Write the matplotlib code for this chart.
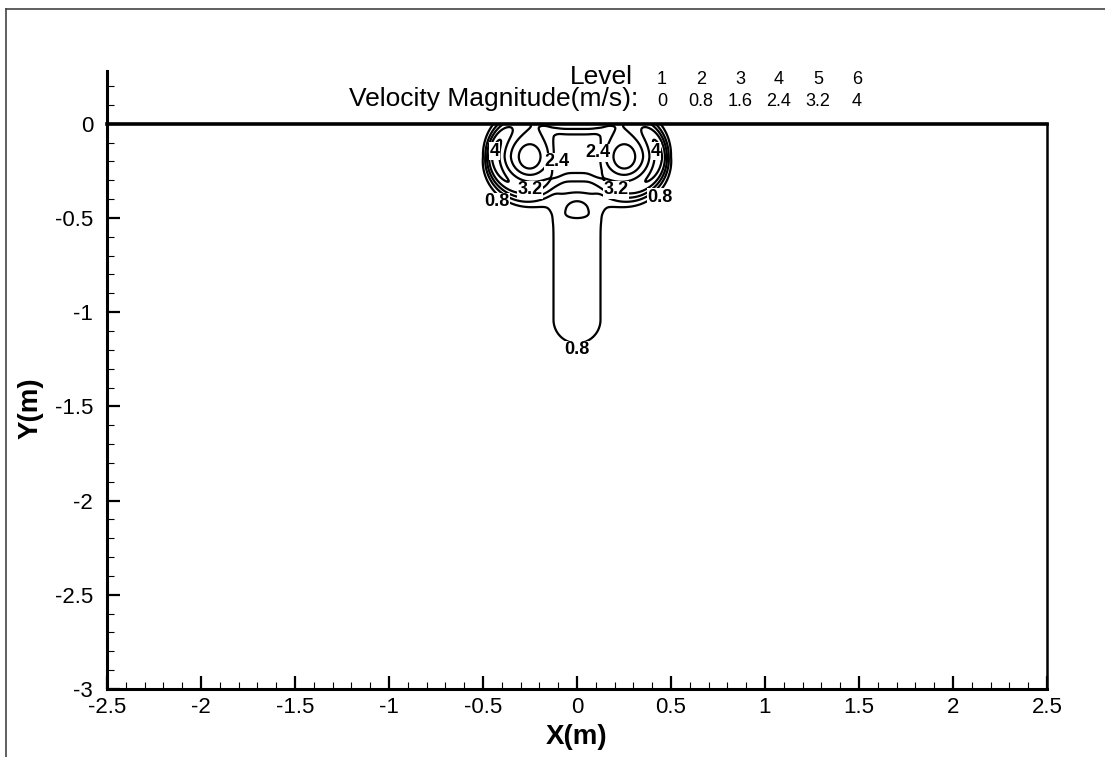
import numpy as np
import matplotlib
matplotlib.use('Agg')
import matplotlib.pyplot as plt
from matplotlib.ticker import MultipleLocator, FormatStrFormatter
from matplotlib.lines import Line2D

plt.rcParams['font.family'] = 'Liberation Sans'
plt.rcParams['axes.unicode_minus'] = False


## Contour levels listed in the header
level_ids = [1, 2, 3, 4, 5, 6]
level_values = [0, 0.8, 1.6, 2.4, 3.2, 4]
level_text = ['0', '0.8', '1.6', '2.4', '3.2', '4']

## Vortex pair just under the surface
vortex_x = [-0.25, 0.25]
vortex_y = [-0.175, -0.175]
vortex_side = [-1, 1]            # which way is "outward" for each vortex
core_speed, core_radius = 2.1, 0.052
# extra speed in the ring: base, outward, up, down
ring_speed = [1.7, 0.6, -1.3, -0.1]
ring_radius = [0.18, 0.01, 0.0, -0.01]
ring_width = 0.064
# outer edge of the vortex: base, outward, up, down
edge_radius = [0.228, 0.0083, 0.025, 0.022]
edge_soft = [0.0167, -0.0033, 0.008, 0.0083]

## Slow background inside the mushroom cap
cap_x, cap_y = 0.0, -0.2
cap_speed = 1.2
cap_ax, cap_ay = 0.4, 0.35

## Jet between the two vortices
bridge_speed = 3.5
bridge_halfwidth = 0.15
bridge_top, bridge_bottom = -0.066, -0.247
bridge_decay_up, bridge_decay_down = 0.099, 0.145

## Stem hanging below
stem_speed = 1.2
stem_halfwidth = 0.125
stem_top, stem_bottom = -0.35, -1.04

## Slow pocket at the top of the stem
pocket_x, pocket_y = 0.0, -0.45
pocket_depth = 1.0
pocket_sx, pocket_sy = 0.052, 0.045

## Contour labels
label_text = ['4', '4', '2.4', '2.4', '3.2', '3.2', '0.8', '0.8', '0.8']
label_x = [-0.44, 0.42, -0.106, 0.11, -0.25, 0.207, -0.426, 0.44, 0.0]
label_y = [-0.145, -0.145, -0.2, -0.155, -0.35, -0.35, -0.415, -0.39, -1.2]


## Build the speed field
x = np.linspace(-0.7, 0.7, 561)
y = np.linspace(-1.4, 0, 561)
X, Y = np.meshgrid(x, y)

def sig(z):
    return 1 / (1 + np.exp(-np.clip(z, -60, 60)))

def steer(p, c, up, down, up_pow=1):
    return p[0] + p[1] * c + p[2] * up**up_pow + p[3] * down

parts = []
for cx, cy, side in zip(vortex_x, vortex_y, vortex_side):
    dx = X - cx
    dy = Y - cy
    r = np.hypot(dx, dy) + 1e-9
    c = side * dx / r
    up = np.clip(dy / r, 0, 1)
    down = np.clip(-dy / r, 0, 1)
    B = steer(ring_speed, c, up, down, 3)
    rp = steer(ring_radius, c, up, down)
    R = steer(edge_radius, c, up, down, 2)
    e = steer(edge_soft, c, up, down)
    # slightly taller core
    rc = np.hypot(dx, dy / 1.12)
    v = core_speed * (1 - np.exp(-(rc / core_radius)**2)) + B * np.exp(-((r - rp) / ring_width)**2)
    parts.append(v * sig((R - r) / e))

q = ((X - cap_x) / cap_ax)**2 + ((Y - cap_y) / cap_ay)**2
parts.append(cap_speed * np.exp(-q**2))

fy = np.where(Y > bridge_top, np.exp(-(Y - bridge_top) / bridge_decay_up),
              np.where(Y < bridge_bottom, np.exp(-(bridge_bottom - Y) / bridge_decay_down), 1.0))
parts.append(bridge_speed * np.exp(-(X / bridge_halfwidth)**6) * fy)

seg = np.clip(Y, stem_bottom, stem_top)
d = np.hypot(X, Y - seg) / stem_halfwidth
parts.append(stem_speed * np.exp(-np.log(1.5) * d**4))

speed = sum(p**4 for p in parts)**0.25
py_ = (Y - pocket_y) / pocket_sy
py_ = np.where(py_ < 0, py_**4, py_**2)
speed = speed - pocket_depth * np.exp(-0.5 * ((X - pocket_x) / pocket_sx)**2 - 0.5 * py_)


## Plot
fig = plt.figure(figsize=(11.05, 7.57), dpi=100)
ax = fig.add_axes([107 / 1105, 1 - 689 / 757, 940 / 1105, 618 / 757])

ax.contour(X, Y, speed, levels=level_values[1:], colors='black', linewidths=1.6)
for lx, ly, lt in zip(label_x, label_y, label_text):
    ax.text(lx, ly, lt, ha='center', va='center', fontsize=13, fontweight='bold', zorder=5,
            bbox=dict(facecolor='white', edgecolor='none', pad=0.3))

ax.set_xlim(-2.5, 2.5)
ax.set_ylim(-3, 0.28)

ax.spines['top'].set_visible(False)
ax.spines['right'].set_visible(False)
ax.spines['left'].set_linewidth(2.2)
ax.spines['bottom'].set_linewidth(2.2)
ax.plot([-2.5, 2.5], [0, 0], color='black', lw=2.6, clip_on=False, solid_capstyle='projecting', zorder=6)
ax.plot([2.5, 2.5], [0, -3], color='black', lw=1.8, clip_on=False)

ax.xaxis.set_major_locator(MultipleLocator(0.5))
ax.xaxis.set_minor_locator(MultipleLocator(0.1))
ax.yaxis.set_major_locator(MultipleLocator(0.5))
ax.yaxis.set_minor_locator(MultipleLocator(0.1))
ax.xaxis.set_major_formatter(FormatStrFormatter('%g'))
ax.yaxis.set_major_formatter(FormatStrFormatter('%g'))
ax.tick_params(which='both', direction='in', top=False, right=False, labelsize=16)
ax.tick_params(which='major', length=9.5, width=1.6)
ax.tick_params(which='minor', length=5, width=0.8)
ax.tick_params(axis='y', pad=10)
ax.tick_params(axis='x', pad=6)

fig.text(577 / 1105, 1 - 744 / 757, 'X(m)', ha='center', va='baseline', fontsize=20, fontweight='bold')
fig.text(31 / 1105, 1 - 408 / 757, 'Y(m)', ha='center', va='center', rotation=90, fontsize=20, fontweight='bold')

## Level header
fig.text(633 / 1105, 1 - 84 / 757, 'Level', ha='right', va='baseline', fontsize=19)
fig.text(638 / 1105, 1 - 106 / 757, 'Velocity Magnitude(m/s):', ha='right', va='baseline', fontsize=19)
for i, (lid, ltxt) in enumerate(zip(level_ids, level_text)):
    px = 662 + 39 * i
    fig.text(px / 1105, 1 - 84 / 757, str(lid), ha='center', va='baseline', fontsize=13)
    fig.text(px / 1105, 1 - 106 / 757, ltxt, ha='center', va='baseline', fontsize=13)

## Thin page frame
fig.add_artist(Line2D([6 / 1105, 1], [1 - 9 / 757, 1 - 9 / 757], transform=fig.transFigure, color='#444444', lw=1.2))
fig.add_artist(Line2D([6 / 1105, 6 / 1105], [1 - 9 / 757, 0], transform=fig.transFigure, color='#444444', lw=1.2))

fig.savefig('out.png', dpi=100)
